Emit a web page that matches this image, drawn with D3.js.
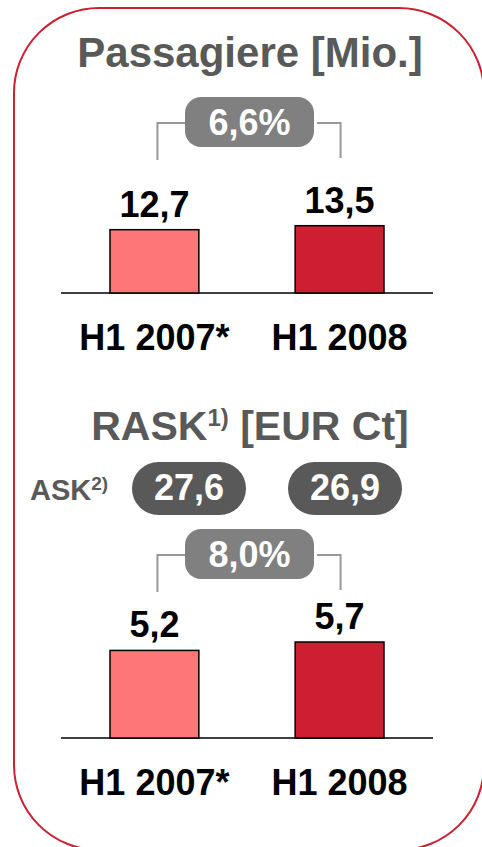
<!DOCTYPE html>
<html>
<head>
<meta charset="utf-8">
<script src="https://cdn.jsdelivr.net/npm/d3@7"></script>
<style>
  body { margin: 0; background: #fff; }
  text { font-family: "Liberation Sans", Arial, sans-serif; font-weight: bold; }
</style>
</head>
<body>
<div id="chart"></div>
<script>
// data
var categories = ["H1 2007*", "H1 2008"];
var passengers = [12.7, 13.5];
var rask = [5.2, 5.7];
var ask = [27.6, 26.9];
var growthPassengers = "6,6%";
var growthRask = "8,0%";

var width = 482, height = 847;
var de = d3.formatLocale({decimal: ",", thousands: ".", grouping: [3], currency: ["", " €"]});
var fmt = de.format(".1f");

var svg = d3.select("#chart").append("svg")
    .attr("width", width)
    .attr("height", height);

// red rounded frame
svg.append("rect")
    .attr("x", 14).attr("y", 8)
    .attr("width", 470).attr("height", 842)
    .attr("rx", 85).attr("ry", 85)
    .attr("fill", "none")
    .attr("stroke", "#cc1f30")
    .attr("stroke-width", 2);

var x = d3.scaleBand()
    .domain(categories)
    .range([110, 384])
    .paddingInner(0.52);

var barColor = d3.scaleOrdinal()
    .domain(categories)
    .range(["#ff7679", "#cd1f31"]);

function title(y, main, sup, rest, size) {
    var t = svg.append("text")
        .attr("x", 250).attr("y", y)
        .attr("text-anchor", "middle")
        .attr("fill", "#595959")
        .style("font-size", size + "px")
        .text(main);
    if (sup) {
        t.append("tspan").attr("dy", -14).style("font-size", "24px").text(sup);
        t.append("tspan").attr("dy", 14).text(rest);
    }
}

function growthBadge(yLine, label) {
    var cx = (x(categories[0]) + x.bandwidth() / 2 + x(categories[1]) + x.bandwidth() / 2) / 2;
    var xl = x(categories[0]) + x.bandwidth() / 2 + 3;
    var xr = x(categories[1]) + x.bandwidth() / 2 + 1;
    var g = svg.append("g");
    g.append("path")
        .attr("d", "M" + xl + "," + (yLine + 37) + "V" + yLine + "H" + (cx - 60))
        .attr("fill", "none").attr("stroke", "#999").attr("stroke-width", 2);
    g.append("path")
        .attr("d", "M" + (cx + 70) + "," + yLine + "H" + xr + "V" + (yLine + 35))
        .attr("fill", "none").attr("stroke", "#999").attr("stroke-width", 2);
    g.append("rect")
        .attr("x", 185).attr("y", yLine - 26)
        .attr("width", 129).attr("height", 50)
        .attr("rx", 16)
        .attr("fill", "#808080");
    g.append("text")
        .attr("x", 249.5).attr("y", yLine + 12)
        .attr("text-anchor", "middle")
        .attr("fill", "#fff")
        .style("font-size", "36px")
        .text(label);
}

function bars(values, base, yTop) {
    var y = d3.scaleLinear()
        .domain([0, d3.max(values)])
        .range([base, yTop]);

    svg.append("line")
        .attr("x1", 61).attr("x2", 433)
        .attr("y1", base).attr("y2", base)
        .attr("stroke", "#000").attr("stroke-width", 1.5);

    svg.selectAll(null)
        .data(values)
        .enter()
        .append("rect")
        .attr("x", function (d, i) { return x(categories[i]); })
        .attr("y", function (d) { return y(d); })
        .attr("width", x.bandwidth())
        .attr("height", function (d) { return base - y(d); })
        .attr("fill", function (d, i) { return barColor(categories[i]); })
        .attr("stroke", "#000")
        .attr("stroke-width", 1.5);

    svg.selectAll(null)
        .data(values)
        .enter()
        .append("text")
        .attr("x", function (d, i) { return x(categories[i]) + x.bandwidth() / 2; })
        .attr("y", function (d) { return y(d) - 13; })
        .attr("text-anchor", "middle")
        .attr("fill", "#000")
        .style("font-size", "36px")
        .text(function (d) { return fmt(d); });

    svg.selectAll(null)
        .data(categories)
        .enter()
        .append("text")
        .attr("x", function (d) { return x(d) + x.bandwidth() / 2; })
        .attr("y", base + 57)
        .attr("text-anchor", "middle")
        .attr("fill", "#000")
        .style("font-size", "36px")
        .text(function (d) { return d; });
}

// Passagiere
title(67, "Passagiere [Mio.]", null, null, 42);
growthBadge(123, growthPassengers);
bars(passengers, 293, 225.7);

// RASK
title(440, "RASK", "1)", " [EUR Ct]", 41);

var askLabel = svg.append("text")
    .attr("x", 30).attr("y", 500)
    .attr("fill", "#595959")
    .style("font-size", "29px")
    .text("ASK");
askLabel.append("tspan").attr("dy", -10).style("font-size", "19px").text("2)");

var pillX = [132, 288];
svg.selectAll(null)
    .data(ask)
    .enter()
    .append("rect")
    .attr("x", function (d, i) { return pillX[i]; })
    .attr("y", 462)
    .attr("width", 114).attr("height", 53)
    .attr("rx", 26.5)
    .attr("fill", "#595959");
svg.selectAll(null)
    .data(ask)
    .enter()
    .append("text")
    .attr("x", function (d, i) { return pillX[i] + 57; })
    .attr("y", 500)
    .attr("text-anchor", "middle")
    .attr("fill", "#fff")
    .style("font-size", "36px")
    .text(function (d) { return fmt(d); });

growthBadge(555, growthRask);
bars(rask, 738, 642);
</script>
</body>
</html>
